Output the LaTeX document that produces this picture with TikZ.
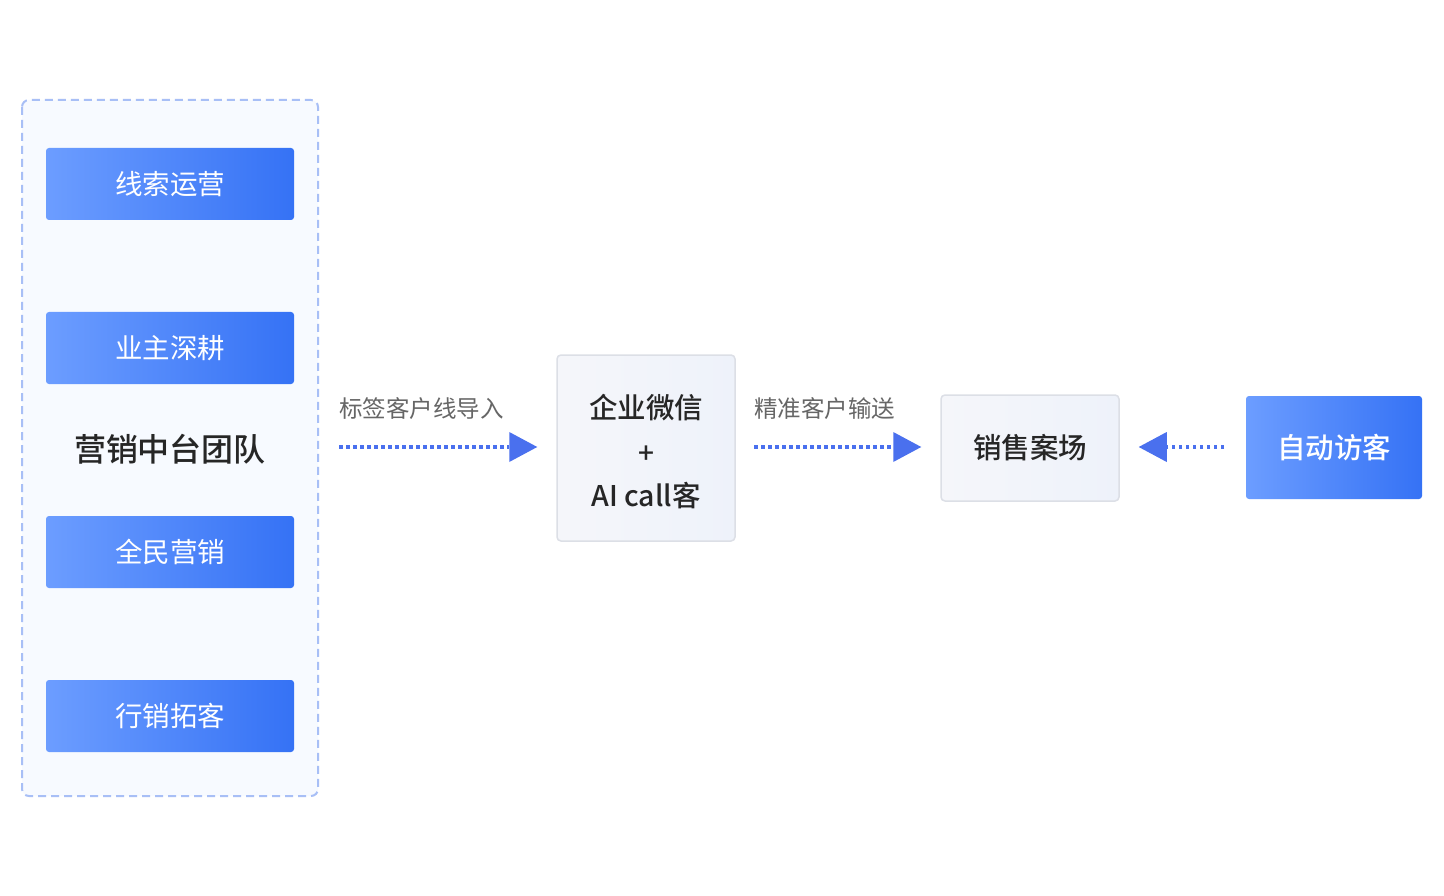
\documentclass[tikz,border=0pt]{standalone}
\usepackage{fontspec}
\setmainfont{Noto Sans CJK SC}
\newfontfamily\medfont{Noto Sans CJK SC Medium}
\usetikzlibrary{arrows.meta}
\definecolor{bluel}{HTML}{6C9DFF}
\definecolor{bluer}{HTML}{3572F5}
\definecolor{dashc}{HTML}{A8BFF6}
\definecolor{panelbg}{HTML}{F7FAFF}
\definecolor{arrc}{HTML}{4A70EE}
\definecolor{grayl}{HTML}{F5F6FA}
\definecolor{grayr}{HTML}{EEF2FA}
\definecolor{grayb}{HTML}{DCDFE6}
\definecolor{darktext}{HTML}{262626}
\definecolor{labeltext}{HTML}{666666}
\tikzset{
  bluebox/.style={rounded corners=3pt, left color=bluel, right color=bluer, minimum width=248pt, minimum height=72pt, text=white, font=\fontsize{27.5}{32}\selectfont, inner sep=0pt},
  graybox/.style={rounded corners=4pt, draw=grayb, line width=1.5pt, left color=grayl, right color=grayr, text=darktext, inner sep=0pt},
  flowarrow/.style={draw=arrc, line width=3.5pt, dash pattern=on 3.5pt off 3.5pt, -{Triangle[length=28pt,width=30pt,fill=arrc,line width=0pt]}},
  lbl/.style={text=labeltext, font=\fontsize{23.5}{28}\selectfont, inner sep=0pt}
}
\begin{document}
\begin{tikzpicture}[x=1pt,y=-1pt]
\useasboundingbox (0,0) rectangle (1444,896);
\fill[white] (0,0) rectangle (1444,896);
% panel
\draw[dashc, fill=panelbg, line width=2pt, dash pattern=on 8pt off 5pt, rounded corners=7pt] (22,100) rectangle (318,796);
\node[bluebox] (b1) at (170,184) {线索运营};
\node[bluebox] (b2) at (170,348) {业主深耕};
\node[bluebox] (b3) at (170,552) {全民营销};
\node[bluebox] (b4) at (170,716) {行销拓客};
\node[text=darktext, font=\fontsize{32}{38}\selectfont\medfont, inner sep=0pt] (team) at (170,449) {营销中台团队};
% middle box
\node[graybox, minimum width=178pt, minimum height=186pt] (wx) at (646,448) {};
\node[text=darktext, font=\fontsize{28.5}{34}\selectfont\medfont, inner sep=0pt] (wx1) at (646,408) {企业微信};
\node[text=darktext, font=\fontsize{28}{32}\selectfont\medfont, inner sep=0pt] (wx2) at (646,455) {+};
\node[text=darktext, font=\fontsize{28.5}{34}\selectfont\medfont, inner sep=0pt] (wx3) at (646,496) {AI call客};
% sales
\node[graybox, minimum width=178pt, minimum height=106pt, font=\fontsize{28.5}{34}\selectfont\medfont] (sales) at (1030,448) {销售案场};
% auto
\node[bluebox, minimum width=176pt, minimum height=103pt, font=\fontsize{28.5}{34}\selectfont\medfont] (auto) at (1334,447.5) {自动访客};
% labels
\node[lbl, anchor=west] (l1) at (339,409) {标签客户线导入};
\node[lbl, anchor=west] (l2) at (754,409) {精准客户输送};
% arrows
\coordinate (a1s) at (339,447);
\coordinate (a2s) at (754,447);
\coordinate (a3s) at (1224,447);
\draw[flowarrow] (a1s) -- ([xshift=-19pt]wx.west |- a1s);
\draw[flowarrow] (a2s) -- ([xshift=-19pt]sales.west |- a2s);
\draw[flowarrow] (a3s) -- ([xshift=19pt]sales.east |- a3s);
\end{tikzpicture}
\end{document}
